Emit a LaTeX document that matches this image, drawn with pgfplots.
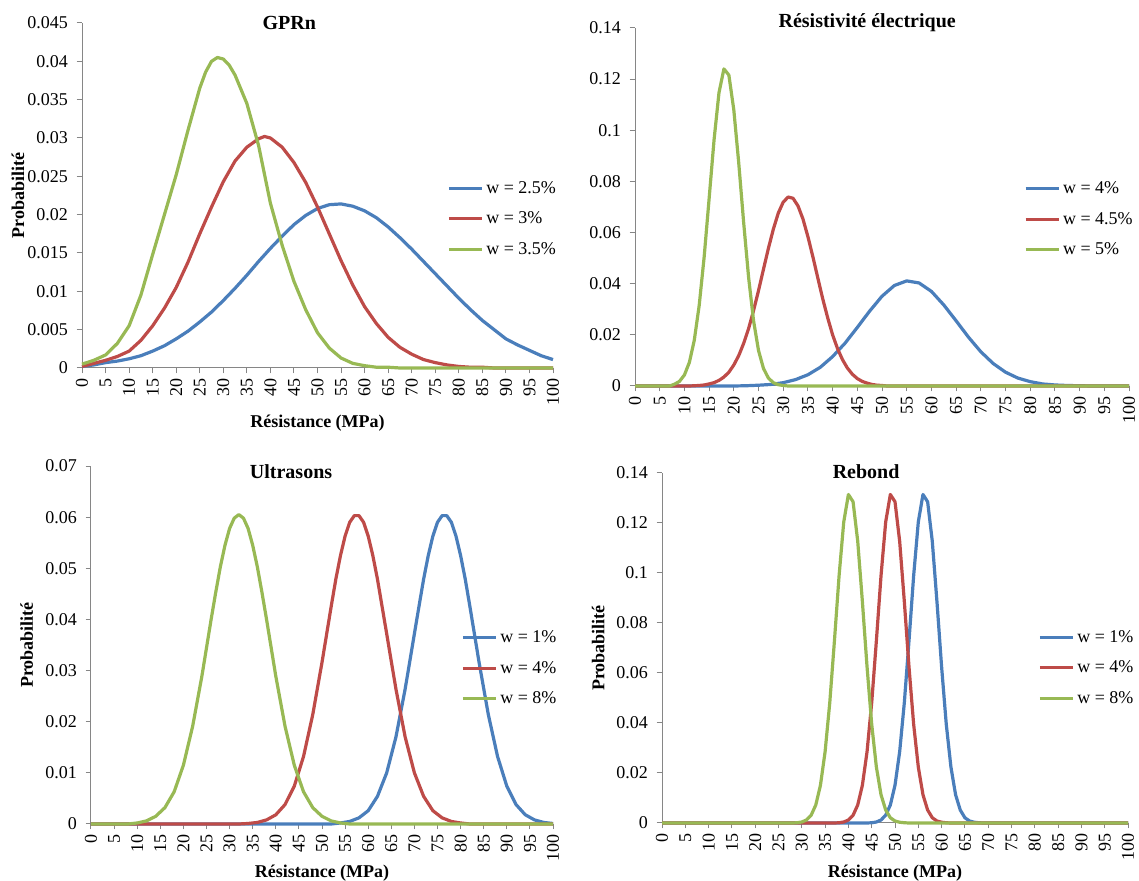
\documentclass[border=0pt]{standalone}
\usepackage{fontspec}
\setmainfont{Liberation Serif}
\usepackage{pgfplots}
\pgfplotsset{compat=1.18}
\definecolor{blueE}{HTML}{4A7EBB}
\definecolor{redE}{HTML}{BE4B48}
\definecolor{greenE}{HTML}{98B954}
\definecolor{axisgray}{HTML}{868686}
\pgfplotsset{
  excel/.style={
    scale only axis,
    anchor=south west,
    axis x line=bottom, axis y line=left,
    axis line style={-, draw=axisgray, line width=0.75pt},
    xmin=0, xmax=100, ymin=0,
    xtick={0,5,...,100},
    tick style={draw=axisgray, line width=0.75pt},
    major tick length=4pt,
    tick align=outside,
    /pgf/number format/assume math mode=true,
    xticklabel style={rotate=90, anchor=east, font=\fontsize{13.5}{14}\selectfont},
    yticklabel style={font=\fontsize{13.5}{14}\selectfont, xshift=-3pt,
      /pgf/number format/fixed, /pgf/number format/precision=3},
    scaled y ticks=false,
    label style={font=\bfseries\fontsize{13.5}{15}\selectfont},
    ylabel style={anchor=center},
    xlabel style={anchor=center},
    every axis title shift=0pt,
    title style={font=\bfseries\fontsize{15}{17}\selectfont, anchor=center, yshift=0pt},
    clip=false,
    legend style={draw=none, fill=none, font=\fontsize{13.5}{15}\selectfont,
      row sep=8.5pt, inner sep=0pt, anchor=west},
    legend cell align=left,
    legend image code/.code={\draw[##1, line width=2.25pt] (0pt,0pt) -- (25pt,0pt);},
    every axis plot/.append style={line width=2.4pt, line join=round, mark=none},
  }
}
\begin{document}
\begin{tikzpicture}
\useasboundingbox (0,0) rectangle (854.25pt,660.75pt);
% ---------------- GPRn ----------------
\begin{axis}[excel, at={(61.5pt,384.75pt)}, width=353.25pt, height=258.75pt,
  ymax=0.045, ytick={0,0.005,0.01,0.015,0.02,0.025,0.03,0.035,0.04,0.045},
  title={GPRn}, title style={at={(axis description cs:0.44,1.0)}},
  xlabel={Résistance (MPa)}, xlabel style={at={(axis description cs:0.5,-0.159)}},
  ylabel={Probabilité}, ylabel style={at={(axis description cs:-0.136,0.5)}},
  legend style={at={(axis description cs:0.775,0.432)}}]
\addplot[blueE] coordinates {(0,0.0002) (2.5,0.0004) (5,0.0007) (7.5,0.0009) (10,0.0012) (12.5,0.0016) (15,0.0022) (17.5,0.0029) (20,0.0038) (22.5,0.0048) (25,0.0060) (27.5,0.0073) (30,0.0088) (32.5,0.0104) (35,0.0121) (37.5,0.0139) (40,0.0156) (42.5,0.0172) (45,0.0187) (47.5,0.0199) (50,0.0208) (52.5,0.0213) (55,0.0214) (57.5,0.0211) (60,0.0205) (62.5,0.0196) (65,0.0184) (67.5,0.0170) (70,0.0155) (72.5,0.0139) (75,0.0123) (77.5,0.0107) (80,0.0091) (82.5,0.0076) (85,0.0062) (87.5,0.0050) (90,0.0038) (92.5,0.0030) (95,0.0023) (97.5,0.0016) (100,0.0011)};
\addplot[redE] coordinates {(0,0.0002) (2.5,0.0006) (5,0.0010) (7.5,0.0015) (10,0.0022) (12.5,0.0036) (15,0.0055) (17.5,0.0078) (20,0.0105) (22.5,0.0138) (25,0.0175) (27.5,0.0210) (30,0.0243) (32.5,0.0270) (35,0.0288) (37.5,0.0299) (38.75,0.0302) (40,0.0300) (42.5,0.0288) (45,0.0268) (47.5,0.0242) (50,0.0210) (52.5,0.0175) (55,0.0140) (57.5,0.0108) (60,0.0080) (62.5,0.0058) (65,0.0040) (67.5,0.0027) (70,0.0018) (72.5,0.0011) (75,0.0007) (77.5,0.0004) (80,0.0002) (82.5,0.0001) (85,0.0001) (87.5,0) (100,0)};
\addplot[greenE] coordinates {(0,0.0005) (2.5,0.0010) (5,0.0017) (7.5,0.0032) (10,0.0055) (12.5,0.0095) (15,0.0148) (17.5,0.0200) (20,0.0252) (22.5,0.0310) (25,0.0365) (26.25,0.0386) (27.5,0.0400) (28.75,0.0405) (30,0.0403) (31.25,0.0395) (32.5,0.0382) (35,0.0345) (37.5,0.0290) (40,0.0215) (42.5,0.0160) (45,0.0113) (47.5,0.0076) (50,0.0046) (52.5,0.0026) (55,0.0013) (57.5,0.0006) (60,0.0003) (62.5,0.0001) (65,0.0001) (67.5,0) (100,0)};
\legend{w = 2.5\%, w = 3\%, w = 3.5\%}
\end{axis}
% ---------------- Résistivité électrique ----------------
\begin{axis}[excel, at={(476.25pt,371.25pt)}, width=370.5pt, height=268.5pt,
  ymax=0.14, ytick={0,0.02,0.04,0.06,0.08,0.1,0.12,0.14},
  title={Résistivité électrique}, title style={at={(axis description cs:0.47,1.014)}},
  legend style={at={(axis description cs:0.787,0.466)}}]
\addplot[blueE] coordinates {(0,0) (20,0) (22.5,0.0001) (25,0.0003) (27.5,0.0006) (30,0.0013) (32.5,0.0025) (35,0.0044) (37.5,0.0073) (40,0.0115) (42.5,0.0167) (45,0.0229) (47.5,0.0293) (50,0.0351) (52.5,0.0393) (55,0.0411) (57.5,0.0403) (60,0.0370) (62.5,0.0317) (65,0.0255) (67.5,0.0191) (70,0.0134) (72.5,0.0088) (75,0.0054) (77.5,0.0031) (80,0.0017) (82.5,0.0008) (85,0.0004) (87.5,0.0002) (90,0.0001) (92.5,0) (100,0)};
\addplot[redE] coordinates {(0,0) (11,0) (12,0.0001) (13,0.0002) (14,0.0004) (15,0.0008) (16,0.0013) (17,0.0022) (18,0.0035) (19,0.0054) (20,0.0082) (21,0.0119) (22,0.0167) (23,0.0225) (24,0.0295) (25,0.0373) (26,0.0456) (27,0.0538) (28,0.0613) (29,0.0676) (30,0.0719) (31,0.0739) (32,0.0734) (33,0.0704) (34,0.0653) (35,0.0584) (36,0.0506) (37,0.0423) (38,0.0341) (39,0.0267) (40,0.0200) (41,0.0146) (42,0.0103) (43,0.0070) (44,0.0046) (45,0.0029) (46,0.0018) (47,0.0011) (48,0.0006) (49,0.0003) (50,0.0002) (51,0) (100,0)};
\addplot[greenE] coordinates {(0,0) (7,0) (8,0.0007) (9,0.0018) (10,0.0043) (11,0.0092) (12,0.0179) (13,0.0316) (14,0.0505) (15,0.0732) (16,0.0962) (17,0.1147) (18,0.1240) (19,0.1216) (20,0.1080) (21,0.0872) (22,0.0638) (23,0.0424) (24,0.0255) (25,0.0139) (26,0.0069) (27,0.0031) (28,0.0013) (29,0.0005) (30,0.0002) (31,0) (100,0)};
\legend{w = 4\%, w = 4.5\%, w = 5\%}
\end{axis}
% ---------------- Ultrasons ----------------
\begin{axis}[excel, at={(68.25pt,42.75pt)}, width=346.5pt, height=268.5pt,
  ymax=0.07, ytick={0,0.01,0.02,0.03,0.04,0.05,0.06,0.07},
  title={Ultrasons}, title style={at={(axis description cs:0.433,0.983)}},
  xlabel={Résistance (MPa)}, xlabel style={at={(axis description cs:0.5,-0.137)}},
  ylabel={Probabilité}, ylabel style={at={(axis description cs:-0.139,0.5)}},
  legend style={at={(axis description cs:0.801,0.435)}}]
\addplot[blueE] coordinates {(0,0) (52,0) (54,0.0002) (56,0.0005) (58,0.0012) (60,0.0026) (62,0.0054) (64,0.0100) (66,0.0170) (68,0.0264) (70,0.0372) (71,0.0426) (72,0.0479) (73,0.0525) (74,0.0563) (75,0.0590) (76,0.0603) (77,0.0603) (78,0.0590) (79,0.0563) (80,0.0525) (81,0.0479) (82,0.0426) (84,0.0316) (86,0.0214) (88,0.0132) (90,0.0074) (92,0.0038) (94,0.0018) (96,0.0008) (98,0.0003) (100,0.0001)};
\addplot[redE] coordinates {(0,0) (32,0) (34,0.0001) (36,0.0003) (38,0.0008) (40,0.0018) (42,0.0038) (44,0.0074) (46,0.0132) (48,0.0214) (50,0.0316) (52,0.0426) (53,0.0479) (54,0.0525) (55,0.0563) (56,0.0590) (57,0.0603) (58,0.0603) (59,0.0590) (60,0.0563) (61,0.0525) (62,0.0479) (64,0.0372) (66,0.0264) (68,0.0170) (70,0.0100) (72,0.0054) (74,0.0026) (76,0.0012) (78,0.0005) (80,0.0002) (82,0) (100,0)};
\addplot[greenE] coordinates {(0,0) (8,0) (10,0.0002) (12,0.0006) (14,0.0015) (16,0.0032) (18,0.0063) (20,0.0115) (22,0.0191) (24,0.0289) (26,0.0400) (27,0.0453) (28,0.0503) (29,0.0545) (30,0.0578) (31,0.0598) (32,0.0605) (33,0.0598) (34,0.0578) (35,0.0545) (36,0.0503) (37,0.0453) (38,0.0400) (40,0.0289) (42,0.0191) (44,0.0115) (46,0.0063) (48,0.0032) (50,0.0015) (52,0.0006) (54,0.0002) (56,0) (100,0)};
\legend{w = 1\%, w = 4\%, w = 8\%}
\end{axis}
% ---------------- Rebond ----------------
\begin{axis}[excel, at={(496.5pt,43.5pt)}, width=349.5pt, height=262.5pt,
  ymax=0.14, ytick={0,0.02,0.04,0.06,0.08,0.1,0.12,0.14},
  title={Rebond}, title style={at={(axis description cs:0.438,1.003)}},
  xlabel={Résistance (MPa)}, xlabel style={at={(axis description cs:0.5,-0.143)}},
  ylabel={Probabilité}, ylabel style={at={(axis description cs:-0.137,0.5)}},
  legend style={at={(axis description cs:0.807,0.443)}}]
\addplot[blueE] coordinates {(0,0) (44,0) (45,0.0001) (46,0.0004) (47,0.0012) (48,0.0031) (49,0.0072) (50,0.0151) (51,0.0285) (52,0.0481) (53,0.0728) (54,0.0989) (55,0.1204) (56,0.1314) (57,0.1285) (58,0.1127) (59,0.0886) (60,0.0625) (61,0.0395) (62,0.0224) (63,0.0113) (64,0.0052) (65,0.0021) (66,0.0008) (67,0.0003) (68,0.0001) (69,0) (100,0)};
\addplot[redE] coordinates {(0,0) (37,0) (38,0.0001) (39,0.0004) (40,0.0012) (41,0.0031) (42,0.0072) (43,0.0151) (44,0.0285) (45,0.0481) (46,0.0728) (47,0.0989) (48,0.1204) (49,0.1314) (50,0.1285) (51,0.1127) (52,0.0886) (53,0.0625) (54,0.0395) (55,0.0224) (56,0.0113) (57,0.0052) (58,0.0021) (59,0.0008) (60,0.0003) (61,0.0001) (62,0) (100,0)};
\addplot[greenE] coordinates {(0,0) (28,0) (29,0.0001) (30,0.0004) (31,0.0012) (32,0.0031) (33,0.0072) (34,0.0151) (35,0.0285) (36,0.0481) (37,0.0728) (38,0.0989) (39,0.1204) (40,0.1314) (41,0.1285) (42,0.1127) (43,0.0886) (44,0.0625) (45,0.0395) (46,0.0224) (47,0.0113) (48,0.0052) (49,0.0021) (50,0.0008) (51,0.0003) (52,0.0001) (53,0) (100,0)};
\legend{w = 1\%, w = 4\%, w = 8\%}
\end{axis}
\end{tikzpicture}
\end{document}
